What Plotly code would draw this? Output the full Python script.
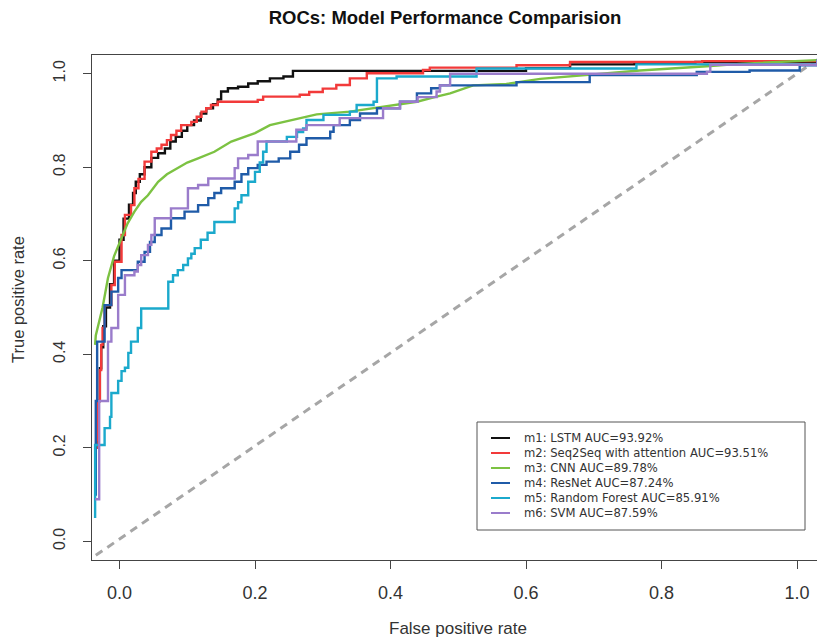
import plotly.graph_objects as go

# ---------------- data ----------------
model_labels = [
    "m1: LSTM AUC=93.92%",
    "m2: Seq2Seq with attention AUC=93.51%",
    "m3: CNN AUC=89.78%",
    "m4: ResNet AUC=87.24%",
    "m5: Random Forest AUC=85.91%",
    "m6: SVM AUC=87.59%",
]
model_colors = ["#111111", "#F23A3A", "#7CC242", "#1F5BA8", "#1BA9CC", "#9A7CCB"]

lstm_fpr = [-0.035, -0.034, -0.032, -0.029, -0.027, -0.024, -0.02, -0.014, -0.008, 0.0, 0.006, 0.014, 0.02,
            0.024, 0.03, 0.037, 0.047, 0.057, 0.067, 0.075, 0.083, 0.092, 0.1, 0.11, 0.12, 0.128, 0.138,
            0.145, 0.15, 0.16, 0.175, 0.19, 0.204, 0.222, 0.242, 0.256, 0.45, 0.6, 0.665, 0.76, 0.85, 1.03]
lstm_tpr = [0.2, 0.22, 0.3, 0.37, 0.415, 0.46, 0.5, 0.55, 0.6, 0.645, 0.69, 0.72, 0.745,
            0.769, 0.785, 0.8, 0.82, 0.83, 0.84, 0.855, 0.865, 0.878, 0.89, 0.9, 0.915, 0.926, 0.935,
            0.945, 0.962, 0.969, 0.972, 0.979, 0.984, 0.99, 0.994, 1.006, 1.006, 1.012, 1.02, 1.022, 1.025, 1.03]

s2s_fpr = [-0.035, -0.034, -0.032, -0.029, -0.027, -0.025, -0.022, -0.012, -0.007, 0.003, 0.008, 0.017,
           0.022, 0.028, 0.037, 0.047, 0.055, 0.062, 0.07, 0.076, 0.084, 0.091, 0.106, 0.114, 0.121, 0.128,
           0.135, 0.145, 0.204, 0.212, 0.266, 0.28, 0.3, 0.32, 0.34, 0.365, 0.448, 0.458, 0.586, 0.665,
           0.86, 1.03]
s2s_tpr = [0.2, 0.217, 0.3, 0.366, 0.42, 0.456, 0.505, 0.548, 0.598, 0.655, 0.698, 0.719,
           0.755, 0.775, 0.812, 0.833, 0.84, 0.848, 0.858, 0.869, 0.878, 0.89, 0.897, 0.908, 0.919, 0.926,
           0.933, 0.94, 0.944, 0.951, 0.955, 0.961, 0.968, 0.976, 0.99, 1.001, 1.008, 1.013, 1.018, 1.025,
           1.027, 1.03]

cnn_fpr = [-0.036, -0.035, -0.025, -0.017, -0.008, 0.003, 0.012, 0.022, 0.032, 0.042, 0.057, 0.07, 0.086,
           0.1, 0.116, 0.14, 0.165, 0.2, 0.222, 0.266, 0.291, 0.34, 0.389, 0.439, 0.468, 0.488, 0.522,
           0.571, 0.621, 0.694, 0.768, 0.867, 0.916, 1.03]
cnn_tpr = [0.42, 0.44, 0.5, 0.563, 0.61, 0.649, 0.68, 0.705, 0.726, 0.74, 0.769, 0.785, 0.798,
           0.81, 0.819, 0.833, 0.855, 0.873, 0.89, 0.905, 0.913, 0.919, 0.929, 0.94, 0.951, 0.958, 0.975,
           0.978, 0.989, 0.998, 1.007, 1.016, 1.021, 1.029]

resnet_fpr = [-0.036, -0.035, -0.033, -0.022, -0.012, -0.002, 0.003, 0.027, 0.037, 0.045, 0.052, 0.062,
              0.076, 0.096, 0.116, 0.131, 0.14, 0.15, 0.17, 0.18, 0.19, 0.204, 0.217, 0.235, 0.252, 0.265,
              0.276, 0.311, 0.316, 0.34, 0.355, 0.38, 0.414, 0.439, 0.46, 0.473, 0.586, 0.694, 0.852, 0.93,
              1.004, 1.03]
resnet_tpr = [0.1, 0.3, 0.427, 0.505, 0.534, 0.563, 0.58, 0.598, 0.619, 0.64, 0.655, 0.669,
              0.691, 0.705, 0.719, 0.734, 0.745, 0.755, 0.769, 0.785, 0.798, 0.805, 0.812, 0.819, 0.833, 0.848,
              0.862, 0.876, 0.89, 0.901, 0.915, 0.926, 0.94, 0.958, 0.969, 0.975, 0.982, 0.997, 1.004, 1.007,
              1.018, 1.03]

rf_fpr = [-0.036, -0.036, -0.022, -0.014, -0.012, -0.002, 0.003, 0.008, 0.013, 0.017, 0.027, 0.032, 0.072,
          0.079, 0.086, 0.094, 0.101, 0.106, 0.111, 0.12, 0.13, 0.14, 0.17, 0.175, 0.18, 0.19, 0.2, 0.207,
          0.212, 0.217, 0.247, 0.262, 0.271, 0.276, 0.301, 0.34, 0.35, 0.375, 0.38, 0.409, 0.527, 0.763, 1.03]
rf_tpr = [0.05, 0.206, 0.242, 0.266, 0.317, 0.343, 0.364, 0.371, 0.403, 0.427, 0.456, 0.498, 0.555,
          0.569, 0.58, 0.591, 0.605, 0.615, 0.627, 0.645, 0.66, 0.683, 0.712, 0.725, 0.74, 0.769, 0.79, 0.81,
          0.833, 0.855, 0.865, 0.875, 0.883, 0.901, 0.912, 0.919, 0.933, 0.94, 0.99, 0.994, 1.011, 1.02, 1.03]

svm_fpr = [-0.036, -0.03, -0.017, -0.012, -0.002, 0.008, 0.022, 0.027, 0.032, 0.042, 0.047, 0.052, 0.076,
           0.101, 0.116, 0.131, 0.17, 0.175, 0.19, 0.204, 0.261, 0.276, 0.325, 0.389, 0.414, 0.44, 0.468,
           0.473, 0.488, 0.867, 0.872, 1.03]
svm_tpr = [0.09, 0.3, 0.427, 0.456, 0.527, 0.569, 0.577, 0.591, 0.612, 0.634, 0.655, 0.691, 0.712,
           0.755, 0.762, 0.776, 0.798, 0.819, 0.826, 0.855, 0.88, 0.89, 0.905, 0.926, 0.94, 0.95, 0.962,
           0.975, 1.0, 1.004, 1.019, 1.03]

diag_x = [-0.035, 1.03]
diag_y = [-0.03, 1.03]

x_ticks = [0.0, 0.2, 0.4, 0.6, 0.8, 1.0]
y_ticks = [0.0, 0.2, 0.4, 0.6, 0.8, 1.0]
tick_text = ["0.0", "0.2", "0.4", "0.6", "0.8", "1.0"]

series = [
    (lstm_fpr, lstm_tpr, "hv"),
    (s2s_fpr, s2s_tpr, "hv"),
    (cnn_fpr, cnn_tpr, "linear"),
    (resnet_fpr, resnet_tpr, "hv"),
    (rf_fpr, rf_tpr, "hv"),
    (svm_fpr, svm_tpr, "hv"),
]

# ---------------- figure ----------------
W, H = 817, 640
L, R, T, B = 92, 0, 55, 80
pw, ph = W - L - R, H - T - B

fig = go.Figure()
fig.add_trace(go.Scatter(x=diag_x, y=diag_y, mode="lines",
                         line=dict(color="#A6A6A6", width=3, dash="8px,6px"),
                         showlegend=False, hoverinfo="skip"))
for (xs, ys, shp), name, col in zip(series, model_labels, model_colors):
    fig.add_trace(go.Scatter(x=xs, y=ys, mode="lines", name=name,
                             line=dict(color=col, width=2.4, shape=shp),
                             showlegend=False))


def px_to_paper(px, py):
    return (px - L) / pw, (H - B - py) / ph


# manual legend (R-style box)
bx0, by0 = px_to_paper(477, 530)
bx1, by1 = px_to_paper(805, 422)
shapes = [dict(type="rect", xref="paper", yref="paper", x0=bx0, y0=by0, x1=bx1, y1=by1,
               line=dict(color="#555555", width=1), fillcolor="white", layer="above")]
annotations = []
row0, row_step = 438, 15
for i, col in enumerate(model_colors):
    py = row0 + row_step * i
    lx0, ly = px_to_paper(491, py)
    lx1, _ = px_to_paper(510, py)
    shapes.append(dict(type="line", xref="paper", yref="paper", x0=lx0, x1=lx1, y0=ly, y1=ly,
                       line=dict(color=col, width=2), layer="above"))
tx, ty = px_to_paper(522, row0 + row_step * (len(model_labels) - 1) / 2)
annotations.append(dict(text="<br>".join(model_labels), xref="paper", yref="paper", x=tx, y=ty,
                        xanchor="left", yanchor="middle", align="left", showarrow=False,
                        font=dict(family="DejaVu Sans", size=11.6, color="#333333")))

tx, ty = px_to_paper(458, 628)
annotations.append(dict(text="False positive rate", xref="paper", yref="paper", x=tx, y=ty,
                        xanchor="center", yanchor="middle", showarrow=False,
                        font=dict(family="Liberation Sans", size=17, color="#333333")))
tx, ty = px_to_paper(18, 300)
annotations.append(dict(text="True positive rate", xref="paper", yref="paper", x=tx, y=ty,
                        xanchor="center", yanchor="middle", showarrow=False, textangle=-90,
                        font=dict(family="Liberation Sans", size=16.5, color="#333333")))

fig.update_layout(
    width=W, height=H,
    margin=dict(l=L, r=R, t=T, b=B),
    paper_bgcolor="white", plot_bgcolor="white",
    title=dict(text="<b>ROCs: Model Performance Comparision</b>", x=445 / W, xref="container",
               y=1 - 18 / H, yref="container", xanchor="center", yanchor="middle",
               font=dict(family="Liberation Sans", size=18.5, color="#111111")),
    shapes=shapes, annotations=annotations,
    showlegend=False,
)
fig.update_xaxes(range=[-0.0406, (W - R - 119.5) / 677.5], tickvals=x_ticks, ticktext=tick_text,
                 showgrid=False, zeroline=False, showline=True, mirror=True,
                 linecolor="#444444", linewidth=1, ticks="outside", ticklen=8, tickcolor="#444444",
                 ticklabelstandoff=8,
                 tickfont=dict(family="Liberation Sans", size=18, color="#333333"))
fig.update_yaxes(range=[-0.04, 1.04], tickvals=y_ticks, ticktext=tick_text,
                 showgrid=False, zeroline=False, showline=True, mirror=False,
                 linecolor="#444444", linewidth=1, ticks="outside", ticklen=8, tickcolor="#444444",
                 tickangle=-90, ticklabelstandoff=12,
                 tickfont=dict(family="Liberation Sans", size=16, color="#333333"))

fig.write_html("out.html", config={"displayModeBar": False},
               post_script="document.body.style.margin='0px';document.body.style.overflow='hidden';")
